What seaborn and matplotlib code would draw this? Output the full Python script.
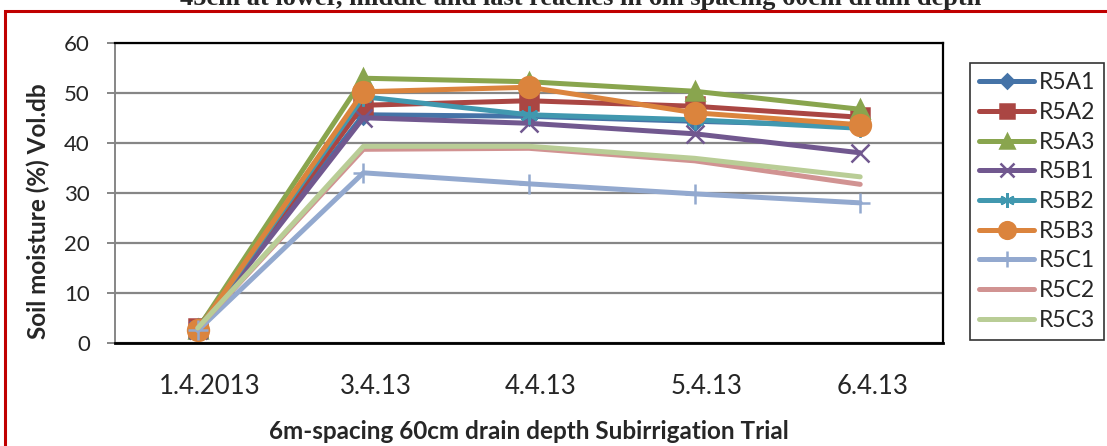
import matplotlib
matplotlib.use("Agg")
import matplotlib.pyplot as plt
import matplotlib.patches as mpatches
from matplotlib.transforms import ScaledTranslation
import pandas as pd
import seaborn as sns

# Sampling dates (x categories)
dates = ["1.4.2013", "3.4.13", "4.4.13", "5.4.13", "6.4.13"]

# Soil moisture (% Vol. db) per observation point
r5a1 = [3.0, 45.6, 45.3, 44.3, 43.4]
r5a2 = [3.0, 47.5, 48.4, 47.3, 45.1]
r5a3 = [2.8, 52.9, 52.2, 50.3, 46.7]
r5b1 = [2.5, 45.0, 43.9, 41.8, 38.0]
r5b2 = [2.5, 49.2, 45.6, 44.6, 42.9]
r5b3 = [2.5, 50.2, 51.1, 46.0, 43.6]
r5c1 = [2.5, 34.0, 31.8, 29.8, 28.0]
r5c2 = [3.0, 38.7, 38.9, 36.4, 31.7]
r5c3 = [3.0, 39.3, 39.3, 36.9, 33.2]

series_names = ["R5A1", "R5A2", "R5A3", "R5B1", "R5B2", "R5B3", "R5C1", "R5C2", "R5C3"]
series_values = [r5a1, r5a2, r5a3, r5b1, r5b2, r5b3, r5c1, r5c2, r5c3]

colors = ["#4573a7", "#aa4643", "#89a54e", "#71588f", "#4198af",
          "#db843d", "#93a9cf", "#d19392", "#b9cd96"]
markers = ["D", "s", "^", "x", (6, 2, 0), "o", "+", None, None]
msizes = [9, 13, 13, 13, 13, 15, 15, 0, 0]

sns.set_style("white")
plt.rcParams["font.family"] = ["Lato", "DejaVu Sans"]

fig = plt.figure(figsize=(11.07, 4.46), dpi=100)
ax = fig.add_axes([115 / 1107, 1 - 343 / 446, (943 - 115) / 1107, (343 - 42.7) / 446])

for name, vals, col, mk, ms in zip(series_names, series_values, colors, markers, msizes):
    df = pd.DataFrame({"date": dates, "moisture": vals})
    kws = dict(color=col, linewidth=3.6, label=name, sort=False, ax=ax)
    if mk is not None:
        kws.update(marker=mk, markersize=ms, markeredgecolor=col,
                   markerfacecolor=col, markeredgewidth=1.8)
    sns.lineplot(data=df, x="date", y="moisture", **kws)

ax.set_ylim(0, 60)
ax.set_yticks([0, 10, 20, 30, 40, 50, 60])
ax.set_xlim(-0.5, 4.5)
ax.yaxis.grid(True, color="#868686", linewidth=1.6)
ax.xaxis.grid(False)
ax.set_axisbelow(True)

for side in ["top", "right", "bottom"]:
    ax.spines[side].set_color("black")
    ax.spines[side].set_linewidth(1.6)
ax.spines["bottom"].set_linewidth(2.0)
ax.spines["left"].set_color("#868686")
ax.spines["left"].set_linewidth(1.4)

ax.tick_params(axis="y", which="major", direction="out", length=6, width=1.4,
               color="#868686", labelsize=16, pad=12, left=True)
ax.tick_params(axis="x", which="major", length=0, labelsize=18.5, pad=22)

# nudge the date labels slightly to the right
for lbl in ax.get_xticklabels():
    lbl.set_transform(lbl.get_transform() + ScaledTranslation(0.12, 0, fig.dpi_scale_trans))

ax.set_xlabel("6m-spacing 60cm drain depth Subirrigation Trial",
              fontsize=17.5, fontweight="bold")
ax.set_ylabel("Soil moisture (%) Vol.db", fontsize=17.5, fontweight="bold")
ax.xaxis.set_label_coords(0.5, -0.255)
ax.yaxis.set_label_coords(-0.079, 0.44)

leg = ax.legend(loc="upper left", bbox_to_anchor=(970 / 1107, 1 - 63 / 446),
                bbox_transform=fig.transFigure, frameon=True, fancybox=False,
                fontsize=16.5, handlelength=2.4, handletextpad=0.2,
                labelspacing=0.38, borderpad=0.4, borderaxespad=0)
leg.get_frame().set_edgecolor("black")
leg.get_frame().set_linewidth(1.2)
for h in leg.legend_handles:
    h.set_markersize(h.get_markersize() * 0.8)

# chart border
fig.add_artist(mpatches.Rectangle((5 / 1107, -0.2), 1.2, 1.2 + (1 - 11 / 446) - 1,
                                  transform=fig.transFigure, fill=False,
                                  edgecolor="#c00000", linewidth=2.2, clip_on=False))

fig.text(581 / 1107, 1 - 5 / 446,
         "45cm at lower, middle and last reaches in 6m spacing 60cm drain depth",
         ha="center", va="baseline", fontsize=19, fontweight="bold",
         family="Liberation Serif")

fig.savefig("out.png", dpi=100, facecolor="white")
